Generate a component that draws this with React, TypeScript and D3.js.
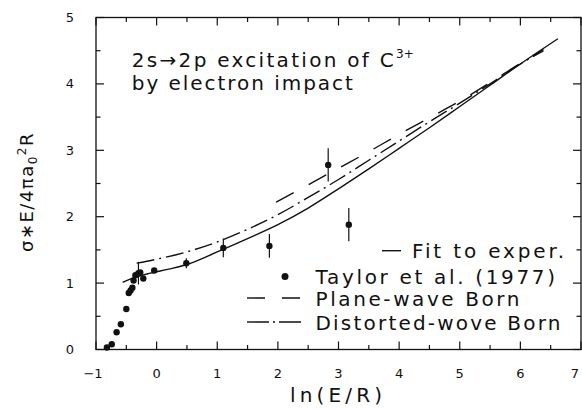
import React from 'react';
import * as d3 from 'd3';

// Taylor et al. (1977) measured points
const expX = [-0.82, -0.74, -0.66, -0.59, -0.5, -0.46, -0.43, -0.4, -0.38, -0.35, -0.3, -0.27, -0.22, -0.04, 0.49, 1.1, 1.86, 2.83, 3.17];
const expY = [0.03, 0.08, 0.26, 0.38, 0.61, 0.85, 0.89, 0.93, 1.04, 1.12, 1.15, 1.16, 1.07, 1.19, 1.3, 1.53, 1.56, 2.78, 1.88];
const expErr = [0, 0, 0, 0, 0, 0, 0, 0, 0, 0, 0.17, 0, 0, 0, 0.075, 0.14, 0.18, 0.25, 0.25];

// fit to experiment (solid)
const fitX = [-0.56, -0.35, -0.1, 0.2, 0.5, 1.0, 1.5, 2.0, 2.5, 3.0, 3.5, 4.0, 4.5, 5.0, 5.5, 6.0, 6.62];
const fitY = [1.01, 1.09, 1.15, 1.21, 1.28, 1.47, 1.67, 1.88, 2.13, 2.42, 2.72, 3.03, 3.34, 3.66, 3.98, 4.3, 4.68];

// distorted-wave Born (dash-dot)
const dwX = [-0.33, 0, 0.5, 1.0, 1.5, 2.0, 2.5, 3.0, 3.5, 4.0, 4.5, 5.0, 5.5, 6.0, 6.38];
const dwY = [1.3, 1.36, 1.47, 1.62, 1.81, 2.03, 2.29, 2.56, 2.85, 3.14, 3.43, 3.71, 4.0, 4.3, 4.5];

// plane-wave Born (dashed)
const pwX = [1.97, 2.5, 3.0, 3.5, 4.0, 4.5, 5.0, 5.5, 6.0, 6.38];
const pwY = [2.22, 2.48, 2.73, 2.98, 3.24, 3.49, 3.74, 4.02, 4.31, 4.52];

const xTicks = [-1, 0, 1, 2, 3, 4, 5, 6, 7];
const yTicks = [0, 1, 2, 3, 4, 5];

const W = 582;
const H = 409;
const FONT = '"DejaVu Sans", sans-serif';

export default function App() {
  const x = d3.scaleLinear().domain([-1, 7]).range([96, 581]);
  const y = d3.scaleLinear().domain([0, 5]).range([349.5, 17.5]);

  const line = d3
    .line<[number, number]>()
    .x(d => x(d[0]))
    .y(d => y(d[1]))
    .curve(d3.curveMonotoneX);

  const zip = (xs: number[], ys: number[]) => xs.map((v, i) => [v, ys[i]] as [number, number]);

  const x0 = x(-1), x1 = x(7), y0 = y(0), y1 = y(5);
  const minorX = d3.range(-1, 7.01, 0.5);
  const minorY = d3.range(0, 5.01, 0.5);
  const stroke = '#111';

  return (
    <svg width={W} height={H} style={{ position: 'absolute', left: 0, top: 0, background: '#fff' }}>
      {/* frame */}
      <rect x={x0} y={y1} width={x1 - x0} height={y0 - y1} fill="none" stroke={stroke} strokeWidth={1.3} />

      {/* x ticks bottom & top */}
      {minorX.map(t => {
        const major = Math.abs(t - Math.round(t)) < 1e-6;
        const len = major ? 8 : 4.5;
        return (
          <g key={'xt' + t}>
            <line x1={x(t)} x2={x(t)} y1={y0} y2={y0 - len} stroke={stroke} strokeWidth={1.2} />
            <line x1={x(t)} x2={x(t)} y1={y1} y2={y1 + len} stroke={stroke} strokeWidth={1.2} />
          </g>
        );
      })}
      {minorY.map(t => {
        const major = Math.abs(t - Math.round(t)) < 1e-6;
        const len = major ? 8 : 4.5;
        return (
          <g key={'yt' + t}>
            <line x1={x0} x2={x0 + len} y1={y(t)} y2={y(t)} stroke={stroke} strokeWidth={1.2} />
            <line x1={x1} x2={x1 - len} y1={y(t)} y2={y(t)} stroke={stroke} strokeWidth={1.2} />
          </g>
        );
      })}

      {/* tick labels */}
      {xTicks.map(t => (
        <text key={'xl' + t} x={x(t) - (t < 0 ? 3 : t === 7 ? 6 : 0)} y={378} textAnchor="middle" fontFamily={FONT} fontSize={13} fill={stroke}>
          {t < 0 ? '\u2212' + Math.abs(t) : t}
        </text>
      ))}
      {yTicks.map(t => (
        <text key={'yl' + t} x={70} y={y(t) + 4.5} textAnchor="middle" fontFamily={FONT} fontSize={13} fill={stroke}>
          {t}
        </text>
      ))}

      {/* axis titles */}
      <text x={336} y={402} textAnchor="middle" fontFamily={FONT} fontSize={20} fill={stroke} textLength={92} lengthAdjust="spacing">
        ln(E/R)
      </text>
      <text transform="translate(33,192) rotate(-90)" textAnchor="middle" fontFamily={FONT} fontSize={18} fill={stroke} letterSpacing={1.5}>
        σ∗E/4πa<tspan fontSize={12} dy={4}>0</tspan>
        <tspan fontSize={12} dy={-11}>2</tspan>
        <tspan dy={7}>R</tspan>
      </text>

      {/* annotation */}
      <text x={131.8} y={66.7} fontFamily={FONT} fontSize={20} fill={stroke}>
        <tspan textLength={262} lengthAdjust="spacing">2s→2p excitation of C</tspan>
        <tspan fontSize={12} dy={-9}>3+</tspan>
      </text>
      <text x={131.8} y={90} fontFamily={FONT} fontSize={20} fill={stroke} textLength={221} lengthAdjust="spacing">
        by electron impact
      </text>

      {/* curves */}
      <path d={line(zip(fitX, fitY)) || ''} fill="none" stroke={stroke} strokeWidth={1.4} />
      <path d={line(zip(dwX, dwY)) || ''} fill="none" stroke={stroke} strokeWidth={1.4} strokeDasharray="18,5,2,5" />
      <path d={line(zip(pwX, pwY)) || ''} fill="none" stroke={stroke} strokeWidth={1.4} strokeDasharray="20,17" />

      {/* experiment */}
      {expX.map((v, i) => (
        <g key={'e' + i}>
          {expErr[i] > 0 && (
            <line x1={x(v)} x2={x(v)} y1={y(expY[i] - expErr[i])} y2={y(expY[i] + expErr[i])} stroke={stroke} strokeWidth={1.2} />
          )}
          <circle cx={x(v)} cy={y(expY[i])} r={3.2} fill={stroke} />
        </g>
      ))}

      {/* legend */}
      <line x1={382} x2={401} y1={250.7} y2={250.7} stroke={stroke} strokeWidth={1.4} />
      <text x={412} y={258} fontFamily={FONT} fontSize={20} fill={stroke} textLength={152} lengthAdjust="spacing">Fit to exper.</text>
      <circle cx={285} cy={276.5} r={3.5} fill={stroke} />
      <text x={315.5} y={284} fontFamily={FONT} fontSize={20} fill={stroke} textLength={239.5} lengthAdjust="spacing">Taylor et al. (1977)</text>
      <line x1={247} x2={300} y1={298} y2={298} stroke={stroke} strokeWidth={1.4} strokeDasharray="18,17" />
      <text x={315.5} y={306} fontFamily={FONT} fontSize={20} fill={stroke} textLength={204} lengthAdjust="spacing">Plane-wave Born</text>
      <line x1={247} x2={302} y1={322} y2={322} stroke={stroke} strokeWidth={1.4} strokeDasharray="22,4,2,4" />
      <text x={315.5} y={330} fontFamily={FONT} fontSize={20} fill={stroke} textLength={245} lengthAdjust="spacing">Distorted-wove Born</text>
    </svg>
  );
}
